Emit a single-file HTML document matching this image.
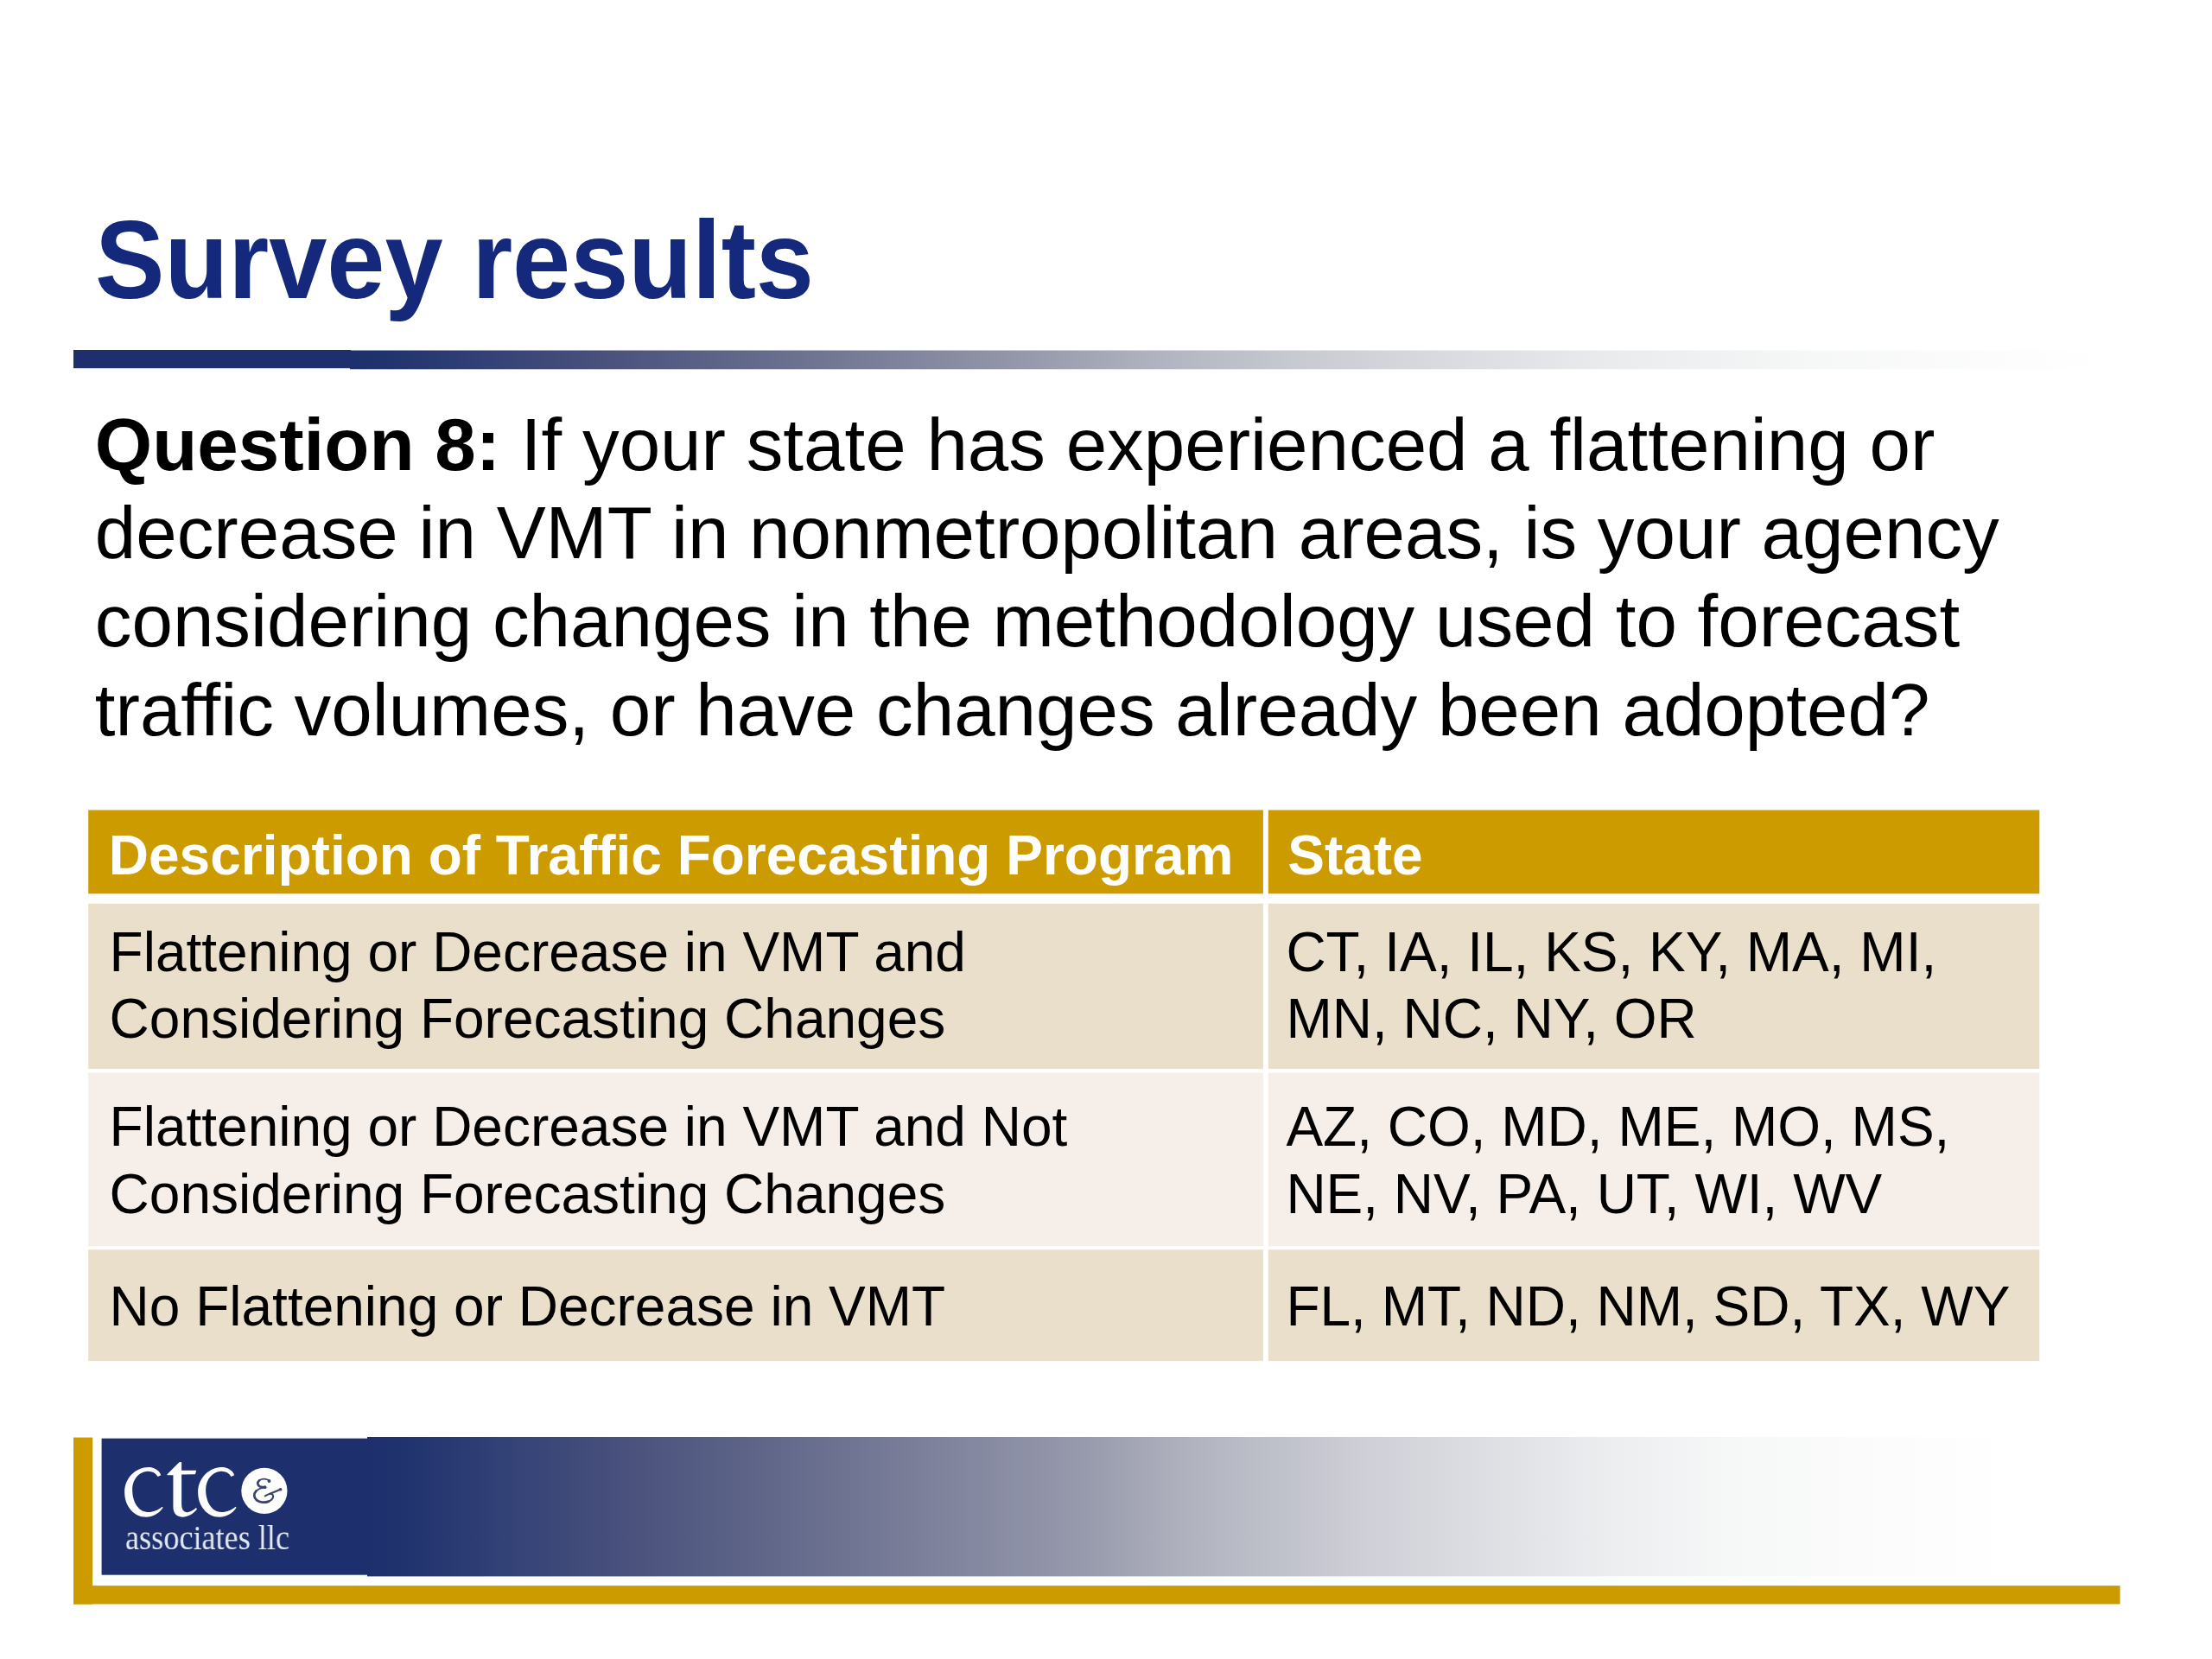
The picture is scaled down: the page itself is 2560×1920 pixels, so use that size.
<!DOCTYPE html>
<html>
<head>
<meta charset="utf-8">
<title>Survey results</title>
<style>
html,body{margin:0;padding:0;background:#fff;}
body{font-variant-ligatures:none;font-kerning:normal;width:2560px;height:1920px;position:relative;overflow:hidden;font-family:"Liberation Sans",sans-serif;color:#000;}
.abs{position:absolute;}
.t{position:absolute;white-space:nowrap;line-height:1;}
#title{left:110px;top:237px;font-size:128px;font-weight:bold;color:#14287c;transform:scaleX(0.943);transform-origin:0 0;}
.q{font-size:85.33px;left:109.8px;}
.th{font-size:64px;font-weight:bold;color:#fff;}
.td{font-size:64px;}
.cell{position:absolute;}
.gold{background:#cc9b00;}
.odd{background:#e9dfcd;}
.even{background:#f5efeb;}
.serif{font-family:"Liberation Serif",serif;}
.lg{font-size:116px;color:#fff;transform-origin:0 0;will-change:transform;}
</style>
</head>
<body>
<svg class="abs" style="left:0;top:0" width="2560" height="1920" viewBox="0 0 2560 1920">
<defs>
<linearGradient id="g1" gradientUnits="userSpaceOnUse" x1="405" y1="0" x2="2460" y2="0"><stop offset="0.0000" stop-color="rgb(29,48,109)"/><stop offset="0.0170" stop-color="rgb(31,50,110)"/><stop offset="0.0754" stop-color="rgb(50,65,118)"/><stop offset="0.1387" stop-color="rgb(72,80,124)"/><stop offset="0.2214" stop-color="rgb(98,104,138)"/><stop offset="0.3041" stop-color="rgb(125,129,155)"/><stop offset="0.3869" stop-color="rgb(152,155,173)"/><stop offset="0.4550" stop-color="rgb(177,179,191)"/><stop offset="0.5328" stop-color="rgb(200,202,209)"/><stop offset="0.5912" stop-color="rgb(213,214,220)"/><stop offset="0.7080" stop-color="rgb(234,235,237)"/><stop offset="0.8248" stop-color="rgb(246,247,247)"/><stop offset="0.9416" stop-color="rgb(253,253,253)"/><stop offset="0.9903" stop-color="rgb(255,255,255)"/></linearGradient>
<linearGradient id="g2" gradientUnits="userSpaceOnUse" x1="425" y1="0" x2="2460" y2="0"><stop offset="0.0000" stop-color="rgb(29,48,109)"/><stop offset="0.0172" stop-color="rgb(31,50,110)"/><stop offset="0.0762" stop-color="rgb(50,65,118)"/><stop offset="0.1430" stop-color="rgb(72,80,124)"/><stop offset="0.2319" stop-color="rgb(98,104,138)"/><stop offset="0.3209" stop-color="rgb(125,129,155)"/><stop offset="0.4098" stop-color="rgb(152,155,173)"/><stop offset="0.4693" stop-color="rgb(177,179,191)"/><stop offset="0.5774" stop-color="rgb(209,210,217)"/><stop offset="0.7052" stop-color="rgb(236,237,239)"/><stop offset="0.7740" stop-color="rgb(246,247,247)"/><stop offset="0.8477" stop-color="rgb(251,251,252)"/><stop offset="0.9361" stop-color="rgb(255,255,255)"/></linearGradient>
</defs>
<rect x="85" y="405" width="321" height="21.2" fill="rgb(29,48,109)"/>
<rect x="405" y="405.5" width="2055" height="21.8" fill="url(#g1)"/>
<g fill="#cc9b00">
<rect x="102.2" y="937.5" width="1359.7" height="96.8"/><rect x="1467.8" y="937.5" width="892.5" height="96.8"/>
<rect x="85" y="1663.6" width="22.1" height="192.9"/><rect x="85" y="1835.1" width="2368.6" height="21.4"/>
</g>
<g fill="#eadfcb">
<rect x="102.2" y="1045.7" width="1359.7" height="191.4"/><rect x="1467.8" y="1045.7" width="892.5" height="191.4"/>
<rect x="102.2" y="1446.2" width="1359.7" height="128.9"/><rect x="1467.8" y="1446.2" width="892.5" height="128.9"/>
</g>
<g fill="#f6eee9">
<rect x="102.2" y="1241.5" width="1359.7" height="200.8"/><rect x="1467.8" y="1241.5" width="892.5" height="200.8"/>
</g>
<rect x="117.6" y="1664.7" width="308" height="158" fill="rgb(29,48,109)"/>
<rect x="425" y="1663" width="2035" height="161.4" fill="url(#g2)"/>
</svg>
<div class="t" id="title">Survey results</div>

<div class="t q" style="top:471.5px"><b>Question 8:</b> If your state has experienced a flattening or</div>
<div class="t q" style="top:573.9px">decrease in VMT in nonmetropolitan areas, is your agency</div>
<div class="t q" style="top:676.3px">considering changes in the methodology used to forecast</div>
<div class="t q" style="top:778.7px">traffic volumes, or have changes already been adopted?</div>

<!-- table -->

<div class="t th" style="left:125.8px;top:957.8px">Description of Traffic Forecasting Program</div>
<div class="t th" style="left:1490.2px;top:957.8px">State</div>

<div class="t td" style="left:126.6px;top:1069.8px">Flattening or Decrease in VMT and</div>
<div class="t td" style="left:126.6px;top:1146.8px">Considering Forecasting Changes</div>
<div class="t td" style="left:1488.4px;top:1069.8px">CT, IA, IL, KS, KY, MA, MI,</div>
<div class="t td" style="left:1488.4px;top:1146.8px">MN, NC, NY, OR</div>

<div class="t td" style="left:126.6px;top:1272.2px">Flattening or Decrease in VMT and Not</div>
<div class="t td" style="left:126.6px;top:1349.6px">Considering Forecasting Changes</div>
<div class="t td" style="left:1488.4px;top:1272.2px">AZ, CO, MD, ME, MO, MS,</div>
<div class="t td" style="left:1488.4px;top:1349.6px">NE, NV, PA, UT, WI, WV</div>

<div class="t td" style="left:126.6px;top:1480.2px">No Flattening or Decrease in VMT</div>
<div class="t td" style="left:1488.4px;top:1480.2px">FL, MT, ND, NM, SD, TX, WY</div>

<!-- footer -->
<svg class="abs" style="left:135px;top:1680px" width="150" height="85" viewBox="0 0 2212 1253">
<defs><path id="gc" d="M756 400 C740 345 660 268 555 266 C330 262 135 450 135 690 C135 930 290 1117 500 1117 C620 1115 720 1060 792 955 L775 940 C710 1000 620 1035 530 1032 C370 1028 268 860 268 650 C268 470 390 338 535 336 C610 335 665 365 702 428 Z"/></defs>
<g fill="#fdfdff">
<use href="#gc"/>
<path d="M862 388 L1068 180 L1108 178 L1108 322 L1360 322 L1342 388 L1108 392 L1108 890 C1108 1000 1150 1040 1210 1035 C1260 1030 1320 995 1355 960 L1372 982 C1310 1070 1200 1118 1120 1115 C1020 1112 965 1050 965 940 L965 400 L862 402 Z"/>
<use href="#gc" x="1253"/>
</g>
</svg>
<svg class="abs" style="left:270px;top:1690px" width="80" height="72" viewBox="270 1690 80 72">
<circle cx="305.9" cy="1725.4" r="26.6" fill="#fdfdfb"/>
<g fill="none" stroke="#3a436e" stroke-linecap="round" stroke-linejoin="round">
<path stroke-width="1.7" d="M311.6 1713.8 C309 1711.2 303.4 1710.9 300.2 1713.2"/>
<path stroke-width="2.7" d="M300.2 1713.2 C297.2 1715.6 297.8 1719 301 1720.4 C303 1721.2 305 1721.3 306.6 1721.3"/>
<path stroke-width="1.7" d="M305.4 1721.6 C302 1722 298.6 1723.4 296.4 1725.6"/>
<path stroke-width="2.8" d="M296.4 1725.6 C293.4 1728.8 293.6 1733.4 297 1736.2 C300.4 1739 306.4 1739.4 311 1737.6"/>
<path stroke-width="2.1" d="M311 1737.6 C315 1735.8 317.2 1732.6 315.8 1730.2 C314.8 1728.6 312.4 1728.6 310.6 1729.4 C309 1730.1 307.8 1730.8 306.9 1731.3"/>
<path stroke-width="2.2" d="M312 1728.9 C316 1727.3 320.4 1725.9 324.9 1723.6"/>
</g>
<g fill="#3a436e"><circle cx="311.5" cy="1714" r="1.9"/><circle cx="306.6" cy="1721.2" r="1.9"/><circle cx="324.6" cy="1723.7" r="1.8"/></g>
</svg>
<div class="t serif" id="assoc" style="left:144.5px;top:1759.5px;font-size:40px;color:#e4e8f5;transform:scaleX(0.905);transform-origin:0 0;will-change:transform">associates llc</div>
</body>
</html>
